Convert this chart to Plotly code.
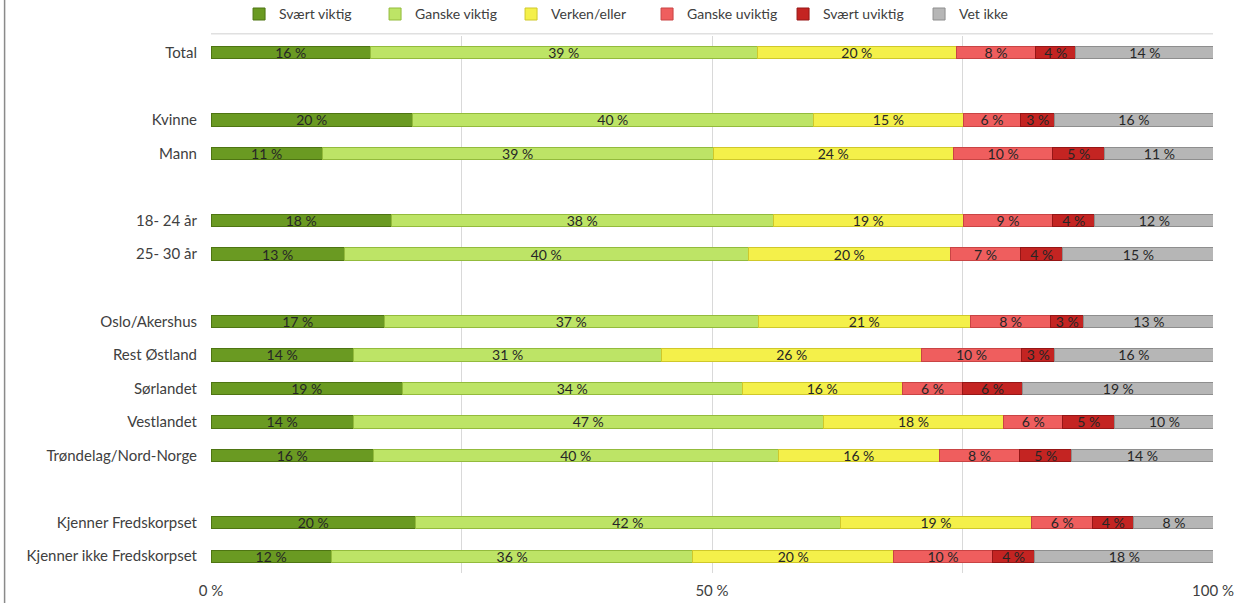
import plotly.graph_objects as go

# Categories (blank entries are spacer rows, top to bottom)
categories = ["Total", " ", "Kvinne", "Mann", "  ", "18- 24 år", "25- 30 år", "   ",
              "Oslo/Akershus", "Rest Østland", "Sørlandet", "Vestlandet",
              "Trøndelag/Nord-Norge", "    ", "Kjenner Fredskorpset", "Kjenner ikke Fredskorpset"]

series_names = ["Svært viktig", "Ganske viktig", "Verken/eller", "Ganske uviktig", "Svært uviktig", "Vet ikke"]

# values per category (None for spacer rows), percent
svaert_viktig   = [15.9, None, 20.1, 11.1, None, 18.0, 13.3, None, 17.3, 14.2, 19.1, 14.2, 16.2, None, 20.4, 12.0]
ganske_viktig   = [38.6, None, 40.0, 39.0, None, 38.1, 40.3, None, 37.3, 30.8, 33.9, 46.9, 40.4, None, 42.4, 36.1]
verken_eller    = [19.9, None, 15.0, 24.0, None, 19.0, 20.2, None, 21.2, 25.9, 16.0, 18.0, 16.1, None, 19.1, 20.0]
ganske_uviktig  = [7.9,  None, 5.7,  9.9,  None, 8.9,  7.0,  None, 8.0,  10.0, 6.0,  5.9,  8.0,  None, 6.1,  9.9]
svaert_uviktig  = [4.0,  None, 3.4,  5.2,  None, 4.2,  4.2,  None, 3.3,  3.3,  6.0,  5.2,  5.2,  None, 4.1,  4.2]
vet_ikke        = [13.8, None, 15.8, 10.9, None, 11.9, 15.1, None, 13.0, 15.8, 19.1, 9.9,  14.1, None, 8.0,  17.9]

series_values = [svaert_viktig, ganske_viktig, verken_eller, ganske_uviktig, svaert_uviktig, vet_ikke]
colors = ["#6a9a22", "#bde466", "#f4f04a", "#ef5e5e", "#c42422", "#b6b6b6"]
edges = ["#4e7512", "#93bb3c", "#cfc82a", "#c94444", "#961616", "#8e8e8e"]

x_tickvals = [0, 25, 50, 75, 100]
x_ticktext = ["0 %", "", "50 %", "", "100 %"]

FONT = "Lato, 'Open Sans', sans-serif"

fig = go.Figure()
for name, vals, col, edge in zip(series_names, series_values, colors, edges):
    fig.add_trace(go.Bar(
        name=name, y=categories, x=vals, orientation="h",
        marker=dict(color=col, line=dict(color=edge, width=1)),
        texttemplate="%{x:.0f} %", textposition="inside", insidetextanchor="middle",
        textangle=0, textfont=dict(family=FONT, size=14, color="#262626"),
        hoverinfo="skip",
    ))

fig.update_layout(
    barmode="stack",
    bargap=0.63,
    width=1236, height=603,
    margin=dict(l=211, r=23, t=36, b=30, autoexpand=False),
    paper_bgcolor="white", plot_bgcolor="white",
    font=dict(family=FONT, size=14, color="#404040"),
    uniformtext=dict(minsize=14, mode="show"),
    showlegend=True,
    legend=dict(orientation="h", x=0.028, xanchor="left", y=1.07, yanchor="top",
                font=dict(family=FONT, size=14, color="#404040"),
                itemwidth=30, entrywidth=91, entrywidthmode="pixels",
                traceorder="normal", bgcolor="rgba(0,0,0,0)"),
    xaxis=dict(range=[0, 100], tickvals=x_tickvals, ticktext=x_ticktext,
               showgrid=True, gridcolor="#d9d9d9", gridwidth=1, zeroline=False,
               showline=False, ticks="", ticklabelstandoff=7,
               tickfont=dict(family=FONT, size=15, color="#404040")),
    yaxis=dict(categoryorder="array", categoryarray=categories, autorange="reversed",
               showgrid=False, zeroline=False, showline=False, ticks="",
               ticklabelstandoff=13,
               tickfont=dict(family=FONT, size=15, color="#404040")),
    shapes=[
        dict(type="line", xref="paper", yref="paper", x0=0, x1=1, y0=1.004, y1=1.004,
             line=dict(color="#d0d0d0", width=1)),
        dict(type="line", xref="paper", yref="paper", x0=-0.206, x1=-0.206, y0=-0.06, y1=1.07,
             line=dict(color="#8a8a8a", width=1.5)),
    ],
)

fig.write_html("out.html", config={"displayModeBar": False},
               post_script="document.body.style.margin='0';document.body.style.padding='0';")
